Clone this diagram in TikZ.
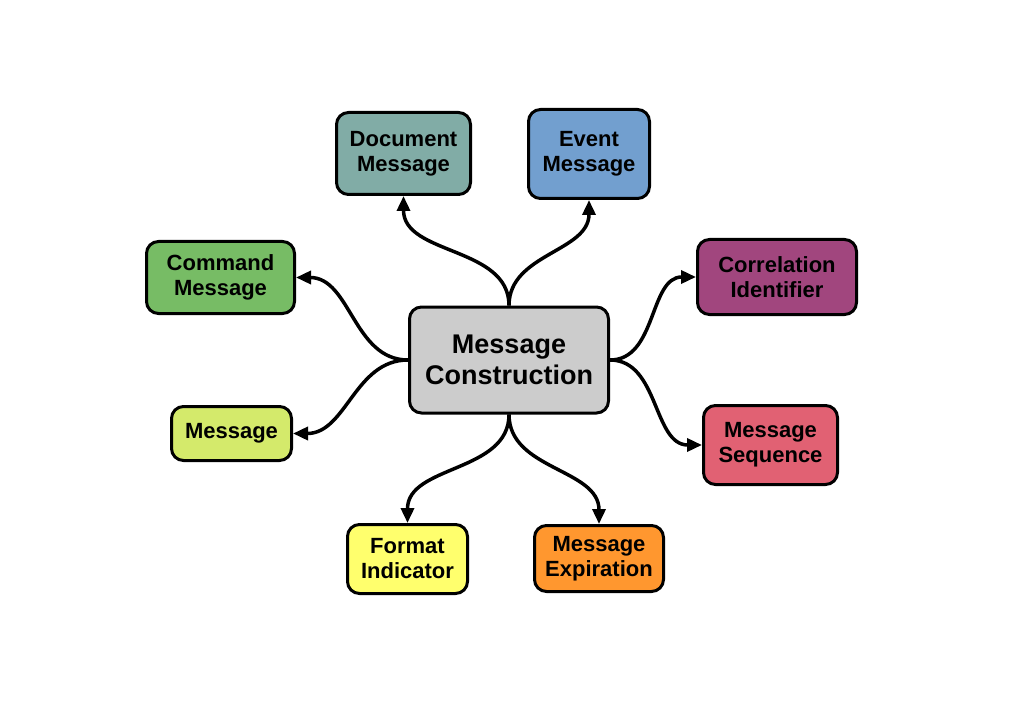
\documentclass[tikz,border=0pt]{standalone}
\usepackage{fontspec}
\setmainfont{Liberation Sans}
\usetikzlibrary{arrows.meta}
\definecolor{cgray}{RGB}{204,204,204}
\definecolor{cdoc}{RGB}{129,172,166}
\definecolor{cevent}{RGB}{114,159,207}
\definecolor{ccmd}{RGB}{119,188,101}
\definecolor{ccorr}{RGB}{161,70,126}
\definecolor{cmsg}{RGB}{212,234,107}
\definecolor{cseq}{RGB}{225,97,115}
\definecolor{cfmt}{RGB}{255,255,109}
\definecolor{cexp}{RGB}{255,151,47}
\tikzset{
  box/.style={draw=black, line width=3pt, rounded corners=12pt, align=center,
    font=\fontsize{22}{25}\selectfont\bfseries, inner sep=0pt},
  bigbox/.style={box, font=\fontsize{27}{31}\selectfont\bfseries},
  conn/.style={line width=3.5pt, -{Triangle[length=15pt,width=13pt]}}
}
\begin{document}
\begin{tikzpicture}[x=1pt,y=1pt]
\useasboundingbox[fill=white] (0,0) rectangle (1024,724);
\node[bigbox, fill=cgray, minimum width=199pt, minimum height=106pt] (c) at (509,364) {Message\\Construction};
\node[box, fill=cdoc, minimum width=134pt, minimum height=82pt] (doc) at (403.5,570.5) {Document\\Message};
\node[box, fill=cevent, minimum width=121pt, minimum height=89pt] (ev) at (589,570) {Event\\Message};
\node[box, fill=ccmd, minimum width=148pt, minimum height=72pt] (cmd) at (220.5,446.5) {Command\\Message};
\node[box, fill=ccorr, minimum width=159pt, minimum height=75pt] (corr) at (777,447) {Correlation\\Identifier};
\node[box, fill=cmsg, minimum width=120pt, minimum height=54pt] (msg) at (231.5,290.5) {Message};
\node[box, fill=cseq, minimum width=134pt, minimum height=79pt] (seq) at (770.5,279) {Message\\Sequence};
\node[box, fill=cfmt, minimum width=120pt, minimum height=69pt] (fmt) at (407.5,165) {Format\\Indicator};
\node[box, fill=cexp, minimum width=129pt, minimum height=66pt] (exp) at (599,165.5) {Message\\Expiration};
\draw[conn] (c.north) to[out=90,in=-90] (doc.south);
\draw[conn] (c.north) to[out=90,in=-90] (ev.south);
\draw[conn] (c.west) to[out=180,in=0] (cmd.east);
\draw[conn] (c.west) to[out=180,in=0] (msg.east);
\draw[conn] (c.east) to[out=0,in=180] (corr.west);
\draw[conn] (c.east) to[out=0,in=180] (seq.west);
\draw[conn] (c.south) to[out=-90,in=90] (fmt.north);
\draw[conn] (c.south) to[out=-90,in=90] (exp.north);
\end{tikzpicture}
\end{document}
